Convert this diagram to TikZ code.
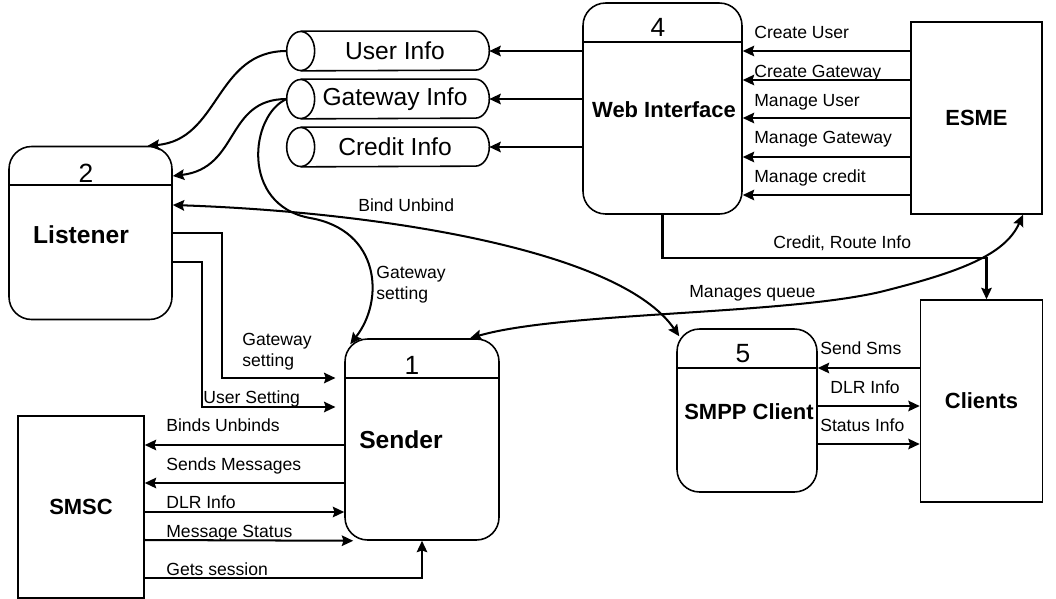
\documentclass[tikz,border=0pt]{standalone}
\usepackage{fontspec}
\setmainfont{Liberation Sans}
\usetikzlibrary{arrows.meta}

\begin{document}
\begin{tikzpicture}[x=0.02cm, y=-0.02cm,
    proc/.style={draw, rounded corners=0.45cm, line width=0.9pt},
    ext/.style={draw, line width=0.9pt},
    store/.style={inner sep=0pt, minimum width=3.76cm, minimum height=0.78cm, font=\fontsize{14}{16}\selectfont},
    num/.style={inner sep=0pt, font=\fontsize{15}{17}\selectfont},
    title/.style={inner sep=0pt, font=\bfseries\fontsize{12.5}{14}\selectfont},
    bigtitle/.style={inner sep=0pt, font=\bfseries\fontsize{14}{16}\selectfont},
    lbl/.style={inner sep=0pt, anchor=base west, font=\fontsize{10}{12}\selectfont},
    lbltwo/.style={inner sep=0pt, anchor=north west, align=left, font=\fontsize{10}{12}\selectfont},
    flow/.style={line width=1.15pt, -{Stealth[length=6.5pt,width=6pt,inset=1pt]}},
    twoway/.style={line width=1.15pt, {Stealth[length=6.5pt,width=6pt,inset=1pt]}-{Stealth[length=6.5pt,width=6pt,inset=1pt]}}]

    \useasboundingbox (0,0) rectangle (1056,599);

    % Processes
    \node[proc, minimum width=3.26cm, minimum height=3.46cm] (listener) at (90.5,233) {};
    \node[proc, minimum width=3.18cm, minimum height=4.22cm] (web) at (662.5,108.5) {};
    \node[proc, minimum width=3.08cm, minimum height=4.02cm] (sender) at (422,439.5) {};
    \node[proc, minimum width=2.8cm, minimum height=3.26cm] (smpp) at (747,410.5) {};

    \node[num] (listenernum) at (86,173) {2};
    \node[num] (webnum) at (658,27.5) {4};
    \node[num] (sendernum) at (412,365) {1};
    \node[num] (smppnum) at (743,354) {5};

    \node[bigtitle] (listenertxt) at (81,235) {Listener};
    \node[title] (webtxt) at (664,110) {Web Interface};
    \node[bigtitle] (sendertxt) at (401,440) {Sender};
    \node[title] (smpptxt) at (749,412) {SMPP Client};

    \foreach \p/\y in {listener/185, web/42, sender/378, smpp/368}
        \draw[line width=0.9pt] (\p.west |- 0,\y) -- (\p.east |- 0,\y);

    % External entities
    \node[ext, title, minimum width=2.62cm, minimum height=3.84cm] (esme) at (976.5,118) {ESME};
    \node[ext, title, minimum width=2.44cm, minimum height=4.04cm] (clients) at (981.5,401) {Clients};
    \node[ext, title, minimum width=2.52cm, minimum height=3.64cm] (smsc) at (81,507) {SMSC};

    % Data stores
    \node[store] (userinfo) at (395,51) {User Info};
    \node[store] (gwinfo) at (395,99) {Gateway Info};
    \node[store] (creditinfo) at (395,147) {Credit Info};

    \foreach \s in {userinfo, gwinfo, creditinfo} {
        \draw[line width=0.9pt] (\s.north west) -- ([xshift=-0.28cm]\s.north east)
            arc[start angle=90, end angle=-90, x radius=0.28cm, y radius=0.39cm] -- (\s.south west);
        \draw[line width=0.9pt] (\s.west) ellipse[x radius=0.28cm, y radius=0.39cm];
    }

    \draw[flow] (web.west |- userinfo.east) -- (userinfo.east);
    \draw[flow] (web.west |- gwinfo.east) -- (gwinfo.east);
    \draw[flow] (web.west |- creditinfo.east) -- (creditinfo.east);

    % ESME to web interface
    \foreach \y/\b/\t in {51/38/Create User, 80/77/Create Gateway, 118/106/Manage User,
                          157/143/Manage Gateway, 195/182/Manage credit} {
        \draw[flow] (esme.west |- 0,\y) -- (web.east |- 0,\y);
        \node[lbl] (esme\y) at (754,\b) {\t};
    }

    \draw[flow] (web.south) -- ++(0,43) -| ([xshift=0.1cm]clients.north);
    \node[lbl] (routelbl) at (773,248) {Credit, Route Info};

    % Stores to listener and sender
    \draw[flow] ([xshift=-0.28cm]userinfo.west) .. controls (215,51) and (220,140) .. ([xshift=-0.5cm]listener.north east);
    \draw[flow] ([xshift=-0.28cm]gwinfo.west) .. controls (225,99) and (240,168) .. (listener.east |- 0,176);
    \draw[flow] ([xshift=-0.28cm]gwinfo.west) .. controls (250,115) and (240,205) .. (310,218)
        .. controls (380,230) and (385,300) .. ([shift={(0.12cm,-0.12cm)}]sender.north west);
    \node[lbltwo] (gwlbla) at (376,266) {Gateway\\setting};

    \draw[twoway] (listener.east |- 0,205) .. controls (380,212) and (620,250) .. ([shift={(0.06cm,-0.16cm)}]smpp.north west);
    \node[lbl] (bindlbl) at (358,211) {Bind Unbind};

    \draw[twoway] (esme.south -| 1023,0) .. controls (1005,255) and (960,272) .. (880,292)
        .. controls (780,315) and (560,312) .. (sender.north -| 470,0);
    \node[lbl] (queuelbl) at (689,297) {Manages queue};

    % Listener to sender
    \draw[flow, shorten >=5pt] (listener.east) -- ++(49,0) |- (sender.west |- 0,378);
    \draw[flow, shorten >=5pt] (listener.east |- 0,262) -- ++(29,0) |- (sender.west |- 0,407);
    \node[lbltwo] (gwlblb) at (242,333) {Gateway\\setting};
    \node[lbl] (userlbl) at (203,403) {User Setting};

    % Sender and SMSC
    \draw[flow] (sender.west |- 0,445) -- (smsc.east |- 0,445);
    \draw[flow] (sender.west |- 0,483) -- (smsc.east |- 0,483);
    \draw[flow] (smsc.east |- 0,512) -- (sender.west |- 0,512);
    \draw[flow] (smsc.east |- 0,540) -- ([xshift=0.18cm]sender.south west);
    \draw[flow] (smsc.east |- 0,578) -| (sender.south);
    \node[lbl] (bindslbl) at (166,431) {Binds Unbinds};
    \node[lbl] (sendslbl) at (166,470) {Sends Messages};
    \node[lbl] (dlrlbla) at (166,508) {DLR Info};
    \node[lbl] (statuslbla) at (166,537) {Message Status};
    \node[lbl] (sessionlbl) at (166,575) {Gets session};

    % SMPP client and clients
    \draw[flow] (clients.west |- 0,368) -- (smpp.east |- 0,368);
    \draw[flow] (smpp.east |- 0,406) -- (clients.west |- 0,406);
    \draw[flow] (smpp.east |- 0,444) -- (clients.west |- 0,444);
    \node[lbl] (smslbl) at (820,354) {Send Sms};
    \node[lbl] (dlrlblb) at (830,393) {DLR Info};
    \node[lbl] (statuslblb) at (820,431) {Status Info};

\end{tikzpicture}
\end{document}
